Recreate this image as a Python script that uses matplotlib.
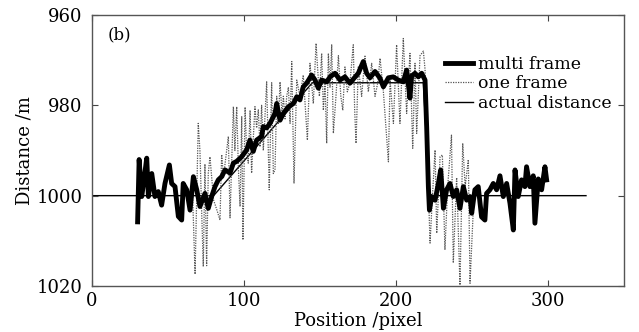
import matplotlib
matplotlib.use("Agg")
import matplotlib.pyplot as plt

plt.rcParams['font.family'] = 'DejaVu Serif'

# multi frame estimate (thick line)
multi_x = [30, 31, 32.7, 34, 36, 37.1, 39.3, 41.4, 43.6, 45.8, 48, 50.9, 52.4, 54.6,
           56.8, 59, 60, 62.3, 64.5, 66.7, 68.9, 71, 74.3, 76.5, 78.7, 80.9, 83.1,
           85.3, 87.5, 90.8, 93, 95.2, 98.4, 101.7, 103.9, 106.1, 108.3, 111.6, 112.7,
           114.9, 117.1, 120.4, 121.5, 123.7, 125.9, 129.2, 132.5, 134.7, 136.8, 139,
           141.2, 144.5, 146.7, 148.9, 151.1, 154.4, 156.6, 159.9, 163.2, 166.4, 169.7,
           171.9, 175.2, 178.5, 180.7, 182.9, 186.2, 189.5, 191.7, 195, 198.2, 201.5,
           204.8, 207, 209.2, 210.3, 212.5, 214.7, 216.9, 219.1, 220.2, 221.3, 222,
           223.5, 225.7, 227.9, 229.4, 231.2, 233.3, 235.5, 237.7, 239.9, 242.1, 244.3,
           246.5, 248.7, 249.8, 251.9, 254.1, 256.3, 258.5, 259.6, 261.8, 264, 266.2,
           268.4, 270.6, 272.8, 275, 277.2, 278.3, 280.4, 282.6, 284.8, 285.9, 288.1,
           290.3, 291.4, 293.6, 295.8, 298, 299.1]
multi_y = [1005.8, 992, 1000.2, 997, 991.7, 1000.2, 995.1, 1000.2, 999.1, 1002.1, 997.3,
           993.2, 997.3, 998, 1004.6, 1005.4, 997.3, 998.7, 1003.2, 995.8, 998.7, 1002.4,
           999.5, 1002.8, 1000.2, 998, 996.5, 995.8, 994.3, 995, 992.8, 992.4, 991.4,
           989.9, 987.7, 990.2, 987.7, 986.9, 984.7, 985, 984, 981.8, 979.6, 983.3,
           981.8, 980.3, 979.6, 978.1, 978.8, 975.9, 975.1, 973.3, 974.4, 976.2, 974.4,
           974.8, 973.7, 972.9, 974.4, 973.7, 975.1, 974.2, 972.9, 970.3, 972.9, 973.9,
           972.5, 974, 975.9, 973.9, 973.7, 974.4, 974.8, 972.2, 978.4, 973.5, 972.9,
           973.7, 972.9, 974.4, 985, 998, 1003.2, 1000.2, 1001, 997.3, 994.3, 1002.8,
           998.7, 997.3, 1000.2, 998.7, 1002.8, 998, 1001, 1000.2, 1003.9, 998.7, 998,
           1004.7, 1005.4, 999.5, 998.7, 997.3, 998.7, 995.6, 1000.2, 997.3, 1001.7,
           1007.6, 994.3, 1000.2, 996.5, 998, 993.6, 998, 995.6, 1006.1, 996.3, 998.7,
           993.6, 996.5]

# one frame estimate (dotted)
one_x = [64, 66, 67.8, 69.9, 71, 72.1, 73.2, 74.3, 75.4, 76.5, 77.6, 79, 80, 82, 84.2,
         85.3, 86.5, 87.5, 89.7, 90.8, 93, 94, 95.2, 96.3, 97.4, 98.5, 99.3, 100.7,
         101.7, 102.8, 104, 105, 106, 107.2, 108.3, 109.4, 110.5, 111.6, 112.7, 114.9,
         116.6, 118.2, 119.3, 120.4, 121.5, 122.6, 123.7, 125, 125.9, 127, 128.1, 129.2,
         130.3, 131.4, 132.9, 134.7, 136.8, 139, 141.7, 143.4, 145.6, 147.4, 149.6,
         151.1, 152.2, 153.3, 154.4, 155.5, 156.6, 157.7, 158.8, 160.5, 162.1, 163.7,
         165, 166.4, 168, 169.7, 171.9, 172.8, 173.7, 175.2, 177.4, 179.6, 181.8, 184,
         186.2, 188, 189.5, 191.7, 195, 196.1, 198.3, 200.4, 202.6, 204.8, 207, 209.2,
         211, 212.5, 213.6, 215.8, 218, 219.1, 220.5, 222.4, 224, 225.7, 226.8, 229,
         230.5, 232.2, 234, 236.5, 237.7, 239.9, 242.1, 243.9, 245.5, 247.6, 248.7, 251,
         252]
one_y = [1000, 998, 1017.4, 984, 990, 1003, 1015.7, 993, 1015.5, 995, 991.4, 997, 1001,
         1003, 1005.4, 990.9, 996, 993, 986.9, 1004.9, 980.3, 990, 980.3, 994, 1002.4,
         982.5, 1009.8, 980.4, 990, 992.8, 981.1, 995, 988, 980.3, 985, 981, 989.2, 980,
         990, 974.8, 998.7, 975, 995.1, 994.3, 978, 984, 974.8, 982, 978, 983, 978, 976,
         984, 970.3, 997.3, 974.4, 978, 973.3, 987.7, 970.7, 979.6, 966.3, 978, 968.5,
         981.1, 975, 988.4, 968.5, 976, 966.6, 986.2, 978, 969, 978, 981.1, 971.5, 977,
         975, 966.6, 981, 988.4, 971.5, 978, 969.1, 977, 970.7, 978, 975, 969.6, 977,
         992.5, 974.4, 984, 966.6, 984, 965.2, 981.8, 968.5, 989.5, 970.7, 986.2, 969,
         968, 972, 990, 1010.5, 1000, 989.9, 1008.3, 991.4, 991, 1012, 998, 986.6,
         1014.9, 996, 1019.8, 988.4, 998, 992, 1019.4, 1002, 1000]

# actual distance
actual_x = [0, 80, 145, 218, 222, 325]
actual_y = [1000, 1000, 975, 975, 1000, 1000]

fig = plt.figure(figsize=(6.39, 3.32), dpi=100)
ax = fig.add_axes([0.144, 0.1386, 0.8325, 0.8162])

ax.plot(actual_x, actual_y, color='black', lw=1.0, label='actual distance', zorder=1)
ax.plot(one_x, one_y, color='#555555', lw=0.9, ls=(0, (1, 1)), label='one frame', zorder=2)
ax.plot(multi_x, multi_y, color='black', lw=3.5, label='multi frame', zorder=3)

ax.set_xlim(0, 350)
ax.set_ylim(1020, 960)
ax.set_xticks([0, 100, 200, 300])
ax.set_yticks([960, 980, 1000, 1020])
ax.tick_params(direction='in', length=4, top=True, right=True, labelsize=13,
               color='#444444')
ax.tick_params(axis='y', pad=7)
ax.tick_params(axis='x', pad=4)
for s in ax.spines.values():
    s.set_color('#555555')
    s.set_linewidth(1.0)

ax.set_xlabel('Position /pixel', fontsize=13, labelpad=2)
ax.set_ylabel('Distance /m', fontsize=13, labelpad=2)
ax.text(0.03, 0.925, '(b)', transform=ax.transAxes, fontsize=12, va='center')

h, l = ax.get_legend_handles_labels()
ax.legend([h[2], h[1], h[0]], [l[2], l[1], l[0]], loc='upper right',
          bbox_to_anchor=(1.0, 0.895), frameon=False, fontsize=12.5,
          handlelength=1.6, handletextpad=0.3, labelspacing=0.15, borderpad=0.2)

fig.savefig('out.png', dpi=100)
